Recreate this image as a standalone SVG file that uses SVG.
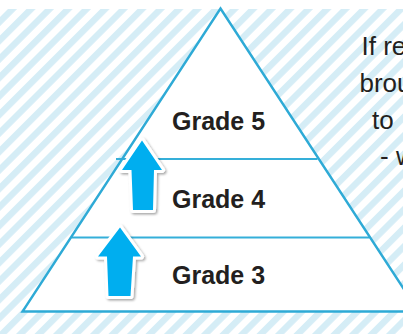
<svg xmlns="http://www.w3.org/2000/svg" xmlns:xlink="http://www.w3.org/1999/xlink" width="403" height="334" viewBox="0 0 403 334">
  <defs>
    <pattern id="stripes" patternUnits="userSpaceOnUse" x="-1.06" y="0" width="13.08" height="13.08" patternTransform="rotate(45)">
      <rect x="0" y="0" width="6.4" height="13.08" fill="#d5edf6"/>
    </pattern>
    <filter id="shadow" x="-30%" y="-30%" width="160%" height="160%">
      <feDropShadow dx="1.5" dy="1.5" stdDeviation="1.2" flood-color="#000" flood-opacity="0.35"/>
    </filter>
    <path id="arrow1" d="M142,140.5 L162,170 L154,170 L153,210 L133,210 L131.5,170 L122,170 Z"/>
    <path id="arrow2" d="M120,227.5 L141,256.5 L133,256.5 L130.5,296 L108.5,296 L107,256.5 L98,256.5 Z"/>
  </defs>
  <style>
    .edge { fill: none; stroke: #2eaad6; stroke-width: 2.4; stroke-linejoin: miter; }
    .div { stroke: #35afd9; stroke-width: 2.2; }
    .grade { font-family: "Liberation Sans", Arial, sans-serif; font-weight: bold; font-size: 25px; fill: #231f20; }
    .note { font-family: "Liberation Sans", Arial, sans-serif; font-size: 26px; fill: #231f20; }
    .outline { fill: #ffffff; stroke: #ffffff; stroke-width: 6; stroke-linejoin: round; filter: url(#shadow); }
    .arrowfill { fill: #00aeef; }
  </style>

  <g id="background">
    <rect x="0" y="0" width="403" height="334" fill="#ffffff"/>
    <rect x="0" y="9" width="403" height="325" fill="url(#stripes)"/>
  </g>

  <g id="pyramid">
    <polygon points="220.5,8.5 418.5,311.5 22.5,311.5" fill="#ffffff"/>
    <line class="div" x1="116" y1="159" x2="317.5" y2="159"/>
    <line class="div" x1="71.5" y1="237.5" x2="369.5" y2="237.5"/>
    <polygon class="edge" points="220.5,8.5 418.5,311.5 22.5,311.5"/>
  </g>

  <g id="grade5">
    <text class="grade" x="172" y="130">Grade 5</text>
  </g>
  <g id="grade4">
    <text class="grade" x="172" y="208">Grade 4</text>
  </g>
  <g id="grade3">
    <text class="grade" x="172" y="284">Grade 3</text>
  </g>

  <g id="connectors">
    <g id="arrow-3-to-4">
      <use xlink:href="#arrow2" class="outline"/>
      <use xlink:href="#arrow2" class="arrowfill"/>
    </g>
    <g id="arrow-4-to-5">
      <use xlink:href="#arrow1" class="outline"/>
      <use xlink:href="#arrow1" class="arrowfill"/>
    </g>
  </g>

  <g id="note">
    <text class="note" x="361.5" y="55">If re</text>
    <text class="note" x="359.5" y="92">brou</text>
    <text class="note" x="372" y="129">to</text>
    <text class="note" x="380" y="165">- w</text>
  </g>
</svg>
